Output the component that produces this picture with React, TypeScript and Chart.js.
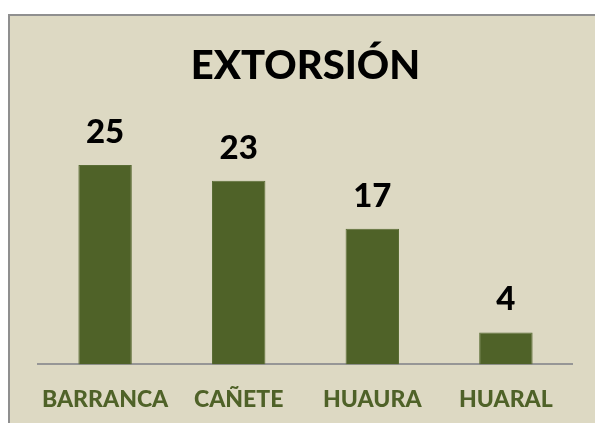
import React, { useEffect, useRef } from "react";
import { Chart, registerables } from "chart.js";

Chart.register(...registerables);

const categories = ["BARRANCA", "CAÑETE", "HUAURA", "HUARAL"];
const values = [25, 23, 17, 4];
const chartTitle = "EXTORSIÓN";

const BAR_COLOR = "#4f6228";
const BG = "#ddd9c3";

const valueLabels = {
  id: "valueLabels",
  afterDatasetsDraw(chart: any) {
    const ctx = chart.ctx;
    const meta = chart.getDatasetMeta(0);
    ctx.save();
    ctx.font = "900 33px Lato";
    ctx.fillStyle = "#000000";
    ctx.textAlign = "center";
    ctx.textBaseline = "alphabetic";
    meta.data.forEach((bar: any, i: number) => {
      ctx.fillText(String(values[i]), bar.x, bar.y - 22);
    });
    ctx.restore();
  },
};

export default function App() {
  const ref = useRef<HTMLCanvasElement>(null);
  useEffect(() => {
    if (!ref.current) return;
    const chart = new Chart(ref.current, {
      type: "bar",
      data: {
        labels: categories,
        datasets: [
          {
            data: values,
            backgroundColor: BAR_COLOR,
            borderColor: "#5a6d35",
            borderWidth: 1,
            barPercentage: 0.4,
            categoryPercentage: 1,
          },
        ],
      },
      options: {
        responsive: false,
        animation: false,
        layout: { padding: { left: 28.3, right: 47.3, top: 0, bottom: 14 } },
        plugins: {
          legend: { display: false },
          tooltip: { enabled: false },
          title: {
            display: true,
            text: chartTitle,
            color: "#000000",
            font: { family: "Lato", size: 40, weight: "900", lineHeight: 1.2 },
            padding: { top: 26, bottom: 35 },
          },
        },
        scales: {
          x: {
            grid: { display: false, drawTicks: false },
            border: { display: true, color: "#969696", width: 2 },
            ticks: {
              color: BAR_COLOR,
              font: { family: "Lato", size: 23, weight: "900", lineHeight: 1.2 },
              padding: 21,
              maxRotation: 0,
              autoSkip: false,
            },
          },
          y: {
            display: false,
            min: 0,
            max: 30,
          },
        },
      },
      plugins: [valueLabels],
    });
    return () => chart.destroy();
  }, []);

  return (
    <div
      style={{
        position: "fixed",
        left: 8,
        top: 14,
        width: 620,
        height: 450,
        borderTop: "2px solid #8f8f8f",
        borderLeft: "2px solid #8f8f8f",
        background: BG,
        overflow: "hidden",
      }}
    >
      <canvas ref={ref} width={610} height={432} style={{ display: "block" }} />
    </div>
  );
}
